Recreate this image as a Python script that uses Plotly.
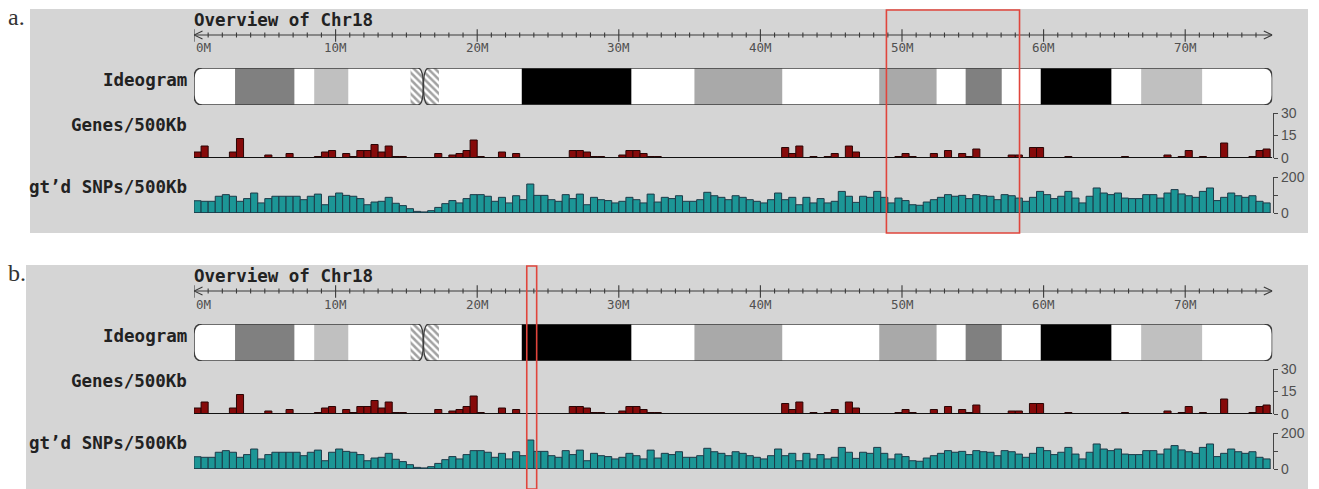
import plotly.graph_objects as go

# ---------------- data ----------------
W, H = 1319, 489
X0_PX = 194.0          # pixel of 0 Mb
PX_PER_MB = 14.16
CHR_LEN = 76.15        # Mb
BIN_MB = 0.5

PANEL_DY = [0, 256]
PANEL_LABELS = ["a.", "b."]
PANEL_BG = [(30, 9, 1308, 233), (26, 265, 1308, 489)]
HIGHLIGHTS = [(48.9, 58.3), (23.5, 24.2)]   # Mb ranges boxed in red

genes = [
    4, 8, 0, 0, 0, 4, 13, 0, 0, 0,
    2, 0, 0, 3, 0, 0, 0, 1, 4, 5,
    0, 3, 1, 5, 5, 9, 4, 8, 1, 1,
    0, 0, 0, 0, 3, 0, 2, 3, 5, 12,
    1, 0, 0, 4, 0, 3, 0, 0, 0, 0,
    0, 0, 0, 5, 5, 4, 1, 1, 0, 0,
    2, 5, 5, 3, 1, 1, 0, 0, 0, 0,
    0, 0, 0, 0, 0, 0, 0, 0, 0, 0,
    0, 0, 0, 7, 3, 8, 0, 1, 0, 1,
    3, 0, 8, 4, 0, 0, 0, 0, 0, 1,
    3, 1, 0, 0, 3, 0, 5, 0, 3, 1,
    6, 0, 0, 0, 0, 2, 2, 0, 7, 7,
    0, 0, 0, 1, 0, 0, 0, 0, 0, 0,
    0, 1, 0, 0, 0, 0, 0, 2, 0, 1,
    5, 0, 1, 0, 0, 10, 0, 0, 0, 1,
    5, 6,
]

snps = [
    68, 65, 65, 93, 102, 93, 65, 80, 111, 56,
    80, 93, 93, 93, 93, 74, 93, 105, 46, 93,
    111, 98, 93, 80, 46, 61, 65, 87, 54, 41,
    24, 9, 6, 13, 31, 52, 69, 56, 80, 102,
    102, 93, 65, 87, 56, 96, 74, 161, 98, 98,
    74, 65, 102, 80, 105, 46, 87, 74, 69, 56,
    65, 87, 74, 56, 105, 61, 87, 80, 96, 65,
    65, 74, 115, 96, 87, 74, 96, 87, 74, 65,
    56, 74, 111, 74, 87, 46, 87, 56, 80, 56,
    65, 120, 93, 59, 93, 87, 120, 87, 56, 83,
    69, 46, 43, 61, 74, 87, 102, 93, 98, 80,
    102, 96, 93, 74, 102, 96, 83, 65, 87, 120,
    102, 80, 93, 120, 83, 56, 93, 139, 111, 102,
    111, 83, 80, 80, 102, 102, 83, 111, 130, 106,
    96, 87, 120, 139, 69, 87, 111, 96, 87, 96,
    65, 56,
]

band_start = [0, 2.9, 7.1, 8.5, 10.9, 15.3, 16.2, 17.3, 23.15, 30.9,
              35.35, 41.55, 48.4, 52.45, 54.5, 57.05, 59.8, 64.8, 66.9, 71.2]
band_end = band_start[1:] + [CHR_LEN]
band_stain = ["gneg", "gpos75", "gneg", "gpos25", "gneg", "acen", "acen", "gneg",
              "gpos100", "gneg", "gpos50", "gneg", "gpos50", "gneg", "gpos75",
              "gneg", "gpos100", "gneg", "gpos25", "gneg"]
STAIN_COLOR = {"gneg": "#ffffff", "gpos25": "#c0c0c0", "gpos50": "#a9a9a9",
               "gpos75": "#808080", "gpos100": "#000000", "acen": "#ffffff"}

ruler_major = list(range(0, 80, 10))
ruler_minor = list(range(0, 76))
tick_labels = [f"{v}M" for v in ruler_major]
gene_ticks, gene_ticktext = [0, 15, 30], ["0", "15", "30"]
snp_ticks, snp_ticktext = [0, 100, 200], ["0", "", "200"]

TITLE = "Overview of Chr18"
TRACK_LABELS = ["Ideogram", "Genes/500Kb", "gt’d SNPs/500Kb"]

# ---------------- helpers ----------------
BG = "#d5d5d5"
MONO = "DejaVu Sans Mono"


def fx(px):
    return px / W


def fy(py):
    return 1 - py / H


def dom(top, bottom):
    return [fy(bottom), fy(top)]


bin_centers = [i * BIN_MB + BIN_MB / 2 for i in range(len(genes))]
X_END_PX = X0_PX + CHR_LEN * PX_PER_MB

fig = go.Figure()
shapes = []
annotations = []
layout_axes = {}

for p, dy in enumerate(PANEL_DY):
    base = 4 * p
    yr, yi, yg, ys = [f"y{base + k}" if base + k > 1 else "y" for k in (1, 2, 3, 4)]
    kr, ki, kg, ks = [f"yaxis{base + k}" if base + k > 1 else "yaxis" for k in (1, 2, 3, 4)]

    # panel background
    bx0, by0, bx1, by1 = PANEL_BG[p]
    shapes.append(dict(type="rect", xref="paper", yref="paper", layer="below",
                       x0=fx(bx0), x1=fx(bx1), y0=fy(by1), y1=fy(by0),
                       fillcolor=BG, line=dict(width=0)))

    # ---- ruler ----
    xs, ysl = [], []
    for v in ruler_minor:
        if v in ruler_major:
            xs += [v, v, None]
            ysl += [5.7, -6.7, None]
        else:
            xs += [v, v, None]
            ysl += [2.5, -2.5, None]
    ah = 0.6
    xs += [ah, 0, ah, None, CHR_LEN - ah, CHR_LEN, CHR_LEN - ah, None, 0, CHR_LEN]
    ysl += [4, 0, -4, None, 4, 0, -4, None, 0, 0]
    fig.add_trace(go.Scatter(x=xs, y=ysl, mode="lines", xaxis="x", yaxis=yr,
                             line=dict(color="#3a3a3a", width=1.1),
                             hoverinfo="skip", cliponaxis=False))
    layout_axes[kr] = dict(domain=dom(25 + dy, 45 + dy), range=[-10, 10],
                           visible=False, fixedrange=True, anchor="x")
    for v, t in zip(ruler_major, tick_labels):
        annotations.append(dict(x=v, xref="x", y=fy(48 + dy), yref="paper",
                                text=t, showarrow=False,
                                xanchor="left" if v == 0 else "center",
                                yanchor="middle",
                                font=dict(family=MONO, size=12.5, color="#505050")))

    # ---- ideogram ----
    widths = [e - s for s, e in zip(band_start, band_end)]
    colors = [STAIN_COLOR[s] for s in band_stain]
    patt = ["\\" if s == "acen" else "" for s in band_stain]
    fig.add_trace(go.Bar(orientation="h", y=[0] * len(widths), x=widths,
                         base=band_start, width=1, xaxis="x", yaxis=yi,
                         marker=dict(color=colors, line=dict(width=0),
                                     pattern=dict(shape=patt, fgcolor="#111111",
                                                  size=5, solidity=0.5)),
                         hoverinfo="skip"))
    layout_axes[ki] = dict(domain=dom(68 + dy, 105 + dy), range=[-0.5, 0.5],
                           visible=False, fixedrange=True, anchor="x")

    acen_idx = [i for i, s in enumerate(band_stain) if s == "acen"]
    cen = band_end[acen_idx[0]]
    arms = [(0, cen, (0.6, 0.27), (0.4, 0.5)),
            (cen, CHR_LEN, (0.4, 0.5), (0.6, 0.27))]
    T, B = 0.5, -0.5
    for x0, x1, (rxl, ryl), (rxr, ryr) in arms:
        masks = [
            f"M {x0},{T} L {x0 + rxl},{T} Q {x0},{T} {x0},{T - ryl} Z",
            f"M {x0},{B} L {x0 + rxl},{B} Q {x0},{B} {x0},{B + ryl} Z",
            f"M {x1},{T} L {x1 - rxr},{T} Q {x1},{T} {x1},{T - ryr} Z",
            f"M {x1},{B} L {x1 - rxr},{B} Q {x1},{B} {x1},{B + ryr} Z",
        ]
        for m in masks:
            shapes.append(dict(type="path", path=m, xref="x", yref=yi,
                               fillcolor=BG, line=dict(width=0), layer="above"))
        outline = (f"M {x0 + rxl},{T} L {x1 - rxr},{T} Q {x1},{T} {x1},{T - ryr} "
                   f"L {x1},{B + ryr} Q {x1},{B} {x1 - rxr},{B} L {x0 + rxl},{B} "
                   f"Q {x0},{B} {x0},{B + ryl} L {x0},{T - ryl} Q {x0},{T} {x0 + rxl},{T} Z")
        shapes.append(dict(type="path", path=outline, xref="x", yref=yi,
                           line=dict(color="#3e3e3e", width=1.5), layer="above"))

    # ---- genes ----
    fig.add_trace(go.Bar(x=bin_centers, y=genes, width=BIN_MB, xaxis="x", yaxis=yg,
                         marker=dict(color="#860a0a", line=dict(color="#2a0505", width=1)),
                         hoverinfo="skip"))
    right_axis = dict(side="right", anchor="free", position=fx(X_END_PX + 1),
                      showline=True, linecolor="#444444", linewidth=1,
                      ticks="outside", ticklen=4, tickcolor="#444444",
                      showgrid=False, zeroline=False, fixedrange=True, automargin=False,
                      tickfont=dict(family="Liberation Sans", size=14, color="#505050"))
    layout_axes[kg] = dict(domain=dom(113 + dy, 158 + dy), range=[0, 30],
                           tickvals=gene_ticks, ticktext=gene_ticktext, **right_axis)
    shapes.append(dict(type="line", xref="x", yref=yg, x0=0, x1=CHR_LEN, y0=0, y1=0,
                       line=dict(color="#111111", width=2), layer="above"))

    # ---- SNPs ----
    fig.add_trace(go.Bar(x=bin_centers, y=snps, width=BIN_MB, xaxis="x", yaxis=ys,
                         marker=dict(color="#1c9696", line=dict(color="#1d3a48", width=1)),
                         hoverinfo="skip"))
    layout_axes[ks] = dict(domain=dom(177 + dy, 213 + dy), range=[0, 200],
                           tickvals=snp_ticks, ticktext=snp_ticktext, **right_axis)
    shapes.append(dict(type="line", xref="x", yref=ys, x0=0, x1=len(snps) * BIN_MB,
                       y0=0, y1=0, line=dict(color="#1d3a48", width=1.5), layer="above"))

    # ---- texts ----
    annotations.append(dict(x=fx(6), y=fy(17 + dy), xref="paper", yref="paper",
                            text=PANEL_LABELS[p], showarrow=False, xanchor="left",
                            yanchor="middle",
                            font=dict(family="Liberation Serif", size=24, color="#333333")))
    annotations.append(dict(x=fx(192), y=fy(20 + dy), xref="paper", yref="paper",
                            text=f"<b>{TITLE}</b>", showarrow=False, xanchor="left",
                            yanchor="middle", font=dict(family=MONO, size=17.5, color="#222222")))
    for lbl, cy in zip(TRACK_LABELS, [80, 125, 187]):
        annotations.append(dict(x=fx(189), y=fy(cy + dy), xref="paper", yref="paper",
                                text=f"<b>{lbl}</b>", showarrow=False, xanchor="right",
                                yanchor="middle", font=dict(family=MONO, size=17.5, color="#222222")))

    # ---- highlight box ----
    h0, h1 = HIGHLIGHTS[p]
    shapes.append(dict(type="rect", xref="x", yref="paper", x0=h0, x1=h1,
                       y0=fy(by1), y1=fy(by0 + 1), fillcolor="rgba(0,0,0,0)",
                       line=dict(color="#e0453c", width=1.6), layer="above"))

fig.update_layout(
    width=W, height=H, margin=dict(l=0, r=0, t=0, b=0, pad=0, autoexpand=False),
    paper_bgcolor="white", plot_bgcolor="rgba(0,0,0,0)",
    showlegend=False, barmode="overlay",
    xaxis=dict(domain=[fx(X0_PX), fx(X_END_PX)], range=[0, CHR_LEN],
               visible=False, fixedrange=True, anchor="y", automargin=False),
    shapes=shapes, annotations=annotations,
    **layout_axes,
)

POST = "document.body.style.margin='0px';"
fig.write_html("out.html", config={"displayModeBar": False}, post_script=POST)
